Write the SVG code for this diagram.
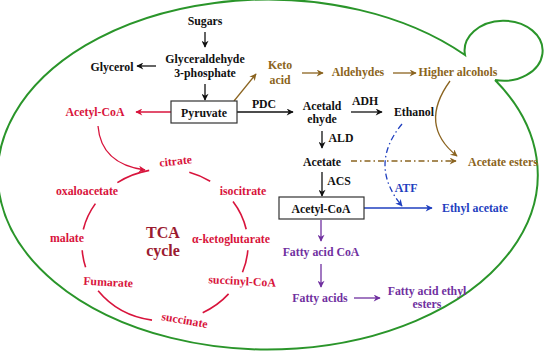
<svg xmlns="http://www.w3.org/2000/svg" width="550" height="360" viewBox="0 0 550 360">
<defs>
<style>
.t text{font-family:'Liberation Serif','DejaVu Serif',serif;font-weight:700;font-size:11.8px;text-anchor:middle}
.t .big{font-size:16px;fill:#9b1b30}
.k{fill:#111}
.r{fill:#d8143c}
.b{fill:#8b6420}
.u{fill:#1f3fbf}
.p{fill:#7030a0}
.ln{fill:none;stroke-width:1.3}
.lk{stroke:#111}
.lr{stroke:#d8143c}
.lb{stroke:#8b6420}
.lu{stroke:#1f3fbf}
.lp{stroke:#7030a0}
.dd{stroke-dasharray:6 3 1.5 3}
.box{fill:#fff;stroke:#333;stroke-width:1.2}
.tca{fill:none;stroke:#d8143c;stroke-width:1.6}
</style>
<marker id="mk" viewBox="0 0 10 10" refX="9" refY="5" markerWidth="8" markerHeight="7" orient="auto" markerUnits="userSpaceOnUse"><path d="M0,0 L10,5 L0,10 L3,5z" fill="#111"/></marker>
<marker id="mr" viewBox="0 0 10 10" refX="9" refY="5" markerWidth="8" markerHeight="7" orient="auto" markerUnits="userSpaceOnUse"><path d="M0,0 L10,5 L0,10 L3,5z" fill="#d8143c"/></marker>
<marker id="mb" viewBox="0 0 10 10" refX="9" refY="5" markerWidth="8" markerHeight="7" orient="auto" markerUnits="userSpaceOnUse"><path d="M0,0 L10,5 L0,10 L3,5z" fill="#8b6420"/></marker>
<marker id="mu" viewBox="0 0 10 10" refX="9" refY="5" markerWidth="8" markerHeight="7" orient="auto" markerUnits="userSpaceOnUse"><path d="M0,0 L10,5 L0,10 L3,5z" fill="#1f3fbf"/></marker>
<marker id="mp" viewBox="0 0 10 10" refX="9" refY="5" markerWidth="8" markerHeight="7" orient="auto" markerUnits="userSpaceOnUse"><path d="M0,0 L10,5 L0,10 L3,5z" fill="#7030a0"/></marker>
</defs>
<rect width="550" height="360" fill="#fff"/>
<g id="cell">
<path d="M495 80 A270 175 0 1 1 465 55 A39 30 0 1 1 495 80" fill="none" stroke="#2a952a" stroke-width="2"/>
</g>
<g id="connectors">
<path class="ln lk" d="M205 32 V47" marker-end="url(#mk)"/>
<path class="ln lk" d="M205 84 V100" marker-end="url(#mk)"/>
<path class="ln lk" d="M156 66 H137" marker-end="url(#mk)"/>
<path class="ln lk" d="M237 112 H293" marker-end="url(#mk)"/>
<path class="ln lk" d="M351 112 H382" marker-end="url(#mk)"/>
<path class="ln lk" d="M322 131 V148" marker-end="url(#mk)"/>
<path class="ln lk" d="M322 172 V196" marker-end="url(#mk)"/>
<path class="ln lr" d="M171 112 H136" marker-end="url(#mr)"/>
<path class="ln lr" d="M98 126 Q101 164 145 170" marker-end="url(#mr)"/>
<path class="ln lb" d="M234 101 L256 74" marker-end="url(#mb)"/>
<path class="ln lb" d="M302 73 H323" marker-end="url(#mb)"/>
<path class="ln lb" d="M393 73 H416" marker-end="url(#mb)"/>
<path class="ln lb" d="M450 81 Q418 125 457 156" marker-end="url(#mb)"/>
<path class="ln lb dd" d="M351 161 H456" marker-end="url(#mb)"/>
<path class="ln lu" d="M364 208 H432" marker-end="url(#mu)"/>
<path class="ln lu dd" d="M402 124 Q368 165 402 206" marker-end="url(#mu)"/>
<path class="ln lp" d="M321 220 V241" marker-end="url(#mp)"/>
<path class="ln lp" d="M321 264 V287" marker-end="url(#mp)"/>
<path class="ln lp" d="M354 298 H380" marker-end="url(#mp)"/>
</g>
<g id="tca-arcs">
<path class="tca" d="M189.3 172.3 A83 76 0 0 1 210.2 181.3"/>
<path class="tca" d="M233.0 201.4 A83 76 0 0 1 246.2 229.2"/>
<path class="tca" d="M247.8 250.3 A83 76 0 0 1 242.5 272.2"/>
<path class="tca" d="M228.6 293.9 A83 76 0 0 1 202.7 312.7"/>
<path class="tca" d="M152.0 320.1 A83 76 0 0 1 98.1 290.7"/>
<path class="tca" d="M85.6 267.2 A83 76 0 0 1 82.2 250.3"/>
<path class="tca" d="M83.3 229.5 A83 76 0 0 1 95.4 203.6"/>
<path class="tca" d="M117.4 182.7 A83 76 0 0 1 149.2 170.4"/>
</g>
<g class="t" font-family="Liberation Serif, serif" font-weight="bold">
<g id="n-sugars"><text class="k" x="205" y="25">Sugars</text></g>
<g id="n-g3p"><text class="k" x="205" y="63">Glyceraldehyde</text><text class="k" x="205" y="77">3-phosphate</text></g>
<g id="n-glycerol"><text class="k" x="112" y="71">Glycerol</text></g>
<g id="n-pyruvate"><rect class="box" x="171" y="101" width="66" height="22"/><text class="k" x="204" y="117">Pyruvate</text></g>
<g id="l-pdc"><text class="k" x="264" y="108">PDC</text></g>
<g id="n-keto"><text class="b" x="280" y="69">Keto</text><text class="b" x="280" y="84">acid</text></g>
<g id="n-aldehydes"><text class="b" x="358" y="76">Aldehydes</text></g>
<g id="n-higher"><text class="b" x="458" y="76">Higher alcohols</text></g>
<g id="n-acetaldehyde"><text class="k" x="322" y="110">Acetald</text><text class="k" x="322" y="123">ehyde</text></g>
<g id="l-adh"><text class="k" x="365" y="105">ADH</text></g>
<g id="n-ethanol"><text class="k" x="414" y="116">Ethanol</text></g>
<g id="l-ald"><text class="k" x="341" y="142">ALD</text></g>
<g id="n-acetate"><text class="k" x="322" y="166">Acetate</text></g>
<g id="n-acetate-esters"><text class="b" x="503" y="166">Acetate esters</text></g>
<g id="l-acs"><text class="k" x="339" y="185">ACS</text></g>
<g id="n-acetylcoa2"><rect class="box" x="279" y="197" width="85" height="22"/><text class="k" x="321" y="213">Acetyl-CoA</text></g>
<g id="l-atf"><text class="u" x="406" y="192">ATF</text></g>
<g id="n-ethyl-acetate"><text class="u" x="475" y="212">Ethyl acetate</text></g>
<g id="n-fatty-coa"><text class="p" x="321" y="256">Fatty acid CoA</text></g>
<g id="n-fatty-acids"><text class="p" x="320" y="302">Fatty acids</text></g>
<g id="n-faee"><text class="p" x="427" y="295">Fatty acid ethyl</text><text class="p" x="427" y="308">esters</text></g>
<g id="n-acetylcoa1"><text class="r" x="95" y="116">Acetyl-CoA</text></g>
<g id="n-citrate"><text class="r" x="176" y="165" transform="rotate(-6 176 165)">citrate</text></g>
<g id="n-isocitrate"><text class="r" x="243" y="195">isocitrate</text></g>
<g id="n-akg"><text class="r" x="231" y="243">α-ketoglutarate</text></g>
<g id="n-succoa"><text class="r" x="242" y="285" transform="rotate(3 242 285)">succinyl-CoA</text></g>
<g id="n-succinate"><text class="r" x="184" y="324" transform="rotate(10 184 324)">succinate</text></g>
<g id="n-fumarate"><text class="r" x="108" y="286" transform="rotate(3 108 286)">Fumarate</text></g>
<g id="n-malate"><text class="r" x="67" y="242">malate</text></g>
<g id="n-oxaloacetate"><text class="r" x="87" y="195">oxaloacetate</text></g>
<g id="n-tca"><text class="big" x="163" y="238">TCA</text><text class="big" x="163" y="256">cycle</text></g>
</g>
</svg>
